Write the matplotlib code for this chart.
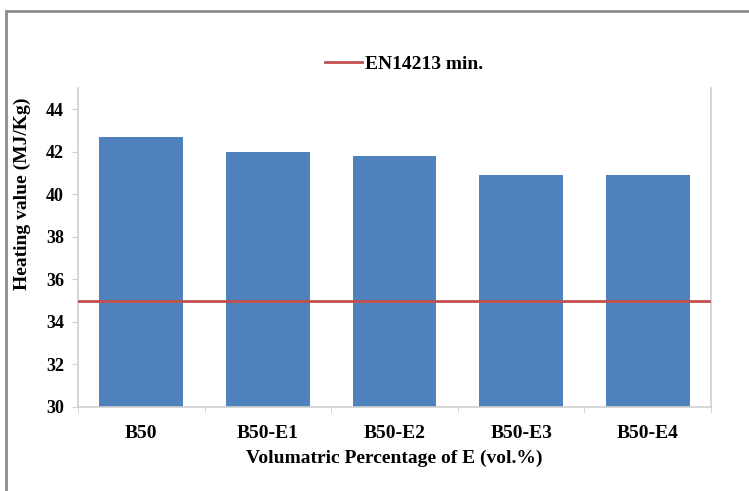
import matplotlib.pyplot as plt
from matplotlib.patches import Rectangle

# Heating value of the blends
categories = ['B50', 'B50-E1', 'B50-E2', 'B50-E3', 'B50-E4']
heating_values = [42.7, 42.0, 41.8, 40.9, 40.9]
en14213_min = 35.0
y_ticks = [30, 32, 34, 36, 38, 40, 42, 44]

plt.rcParams['font.family'] = ['Liberation Serif', 'DejaVu Serif']
plt.rcParams['font.weight'] = 'bold'

fig = plt.figure(figsize=(7.49, 4.91), dpi=100)
ax = fig.add_axes([0.1041, 0.1711, 0.8452, 0.6497])

# outer chart border
fig.patches.append(Rectangle((6 / 749, -0.1), 1.2, 0.1 + (491 - 11) / 491,
                             transform=fig.transFigure, fill=False,
                             edgecolor='#8c8c8c', linewidth=2))

x = range(len(categories))
ax.bar(x, heating_values, width=0.66, color='#4F81BD', zorder=2)
ax.axhline(en14213_min, color='#C0504D', linewidth=2, zorder=3,
           label='EN14213 min.')

ax.set_xlim(-0.5, len(categories) - 0.5)
ax.set_ylim(30, 45)
ax.set_yticks(y_ticks)
ax.set_xticks(list(x))
ax.set_xticklabels(categories)
ax.set_xticks([i + 0.5 for i in range(-1, len(categories))], minor=True)

for side in ['left', 'right', 'bottom']:
    ax.spines[side].set_color('#d0d0d0')
    ax.spines[side].set_linewidth(1.2)
ax.spines['top'].set_visible(False)

ax.tick_params(axis='y', length=4, color='#d0d0d0', labelsize=13, pad=6)
ax.tick_params(axis='x', which='major', length=0, labelsize=14, pad=13)
ax.tick_params(axis='x', which='minor', length=4, color='#d0d0d0')

ax.set_ylabel('Heating value (MJ/Kg)', fontsize=14, fontweight='bold')
ax.yaxis.set_label_coords(-0.088, 0.67)
ax.set_xlabel('Volumatric Percentage of E (vol.%)', fontsize=14,
              fontweight='bold')
ax.xaxis.set_label_coords(0.5, -0.16)
ax.xaxis.label.set_va('center')
ax.yaxis.label.set_va('center')

fig.legend(loc='center', bbox_to_anchor=(0.539, 0.87), frameon=False,
           handlelength=1.9, handletextpad=0.15,
           prop={'weight': 'bold', 'size': 14})

fig.savefig('out.png', dpi=100)
